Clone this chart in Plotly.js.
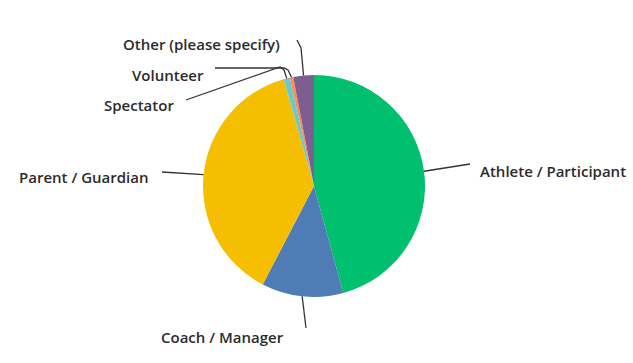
<!DOCTYPE html>
<html><head><meta charset="utf-8">
<script src="https://cdn.plot.ly/plotly-3.0.1.min.js"></script>
<style>html,body{margin:0;padding:0;background:#fff}#c{width:633px;height:363px}</style>
</head><body><div id="c"></div>
<script>
const categories = ["Athlete / Participant", "Coach / Manager", "Parent / Guardian", "Spectator", "Volunteer", "Other (please specify)"];
const values = [45.8, 11.9, 38.0, 0.9, 0.5, 3.0];
const colors = ["#00BF6F", "#507CB6", "#F6BE00", "#6BC8CD", "#FF8B4F", "#7D5E90"];

// label placement (pixels): elbow points and text anchor
const labelLayout = [
  {pts: [[470,164]], tx: 478, ty: 171, anchor: "left"},
  {pts: [[306,328]], tx: 222, ty: 337, anchor: "center"},
  {pts: [[162,172]], tx: 151, ty: 177, anchor: "right"},
  {pts: [[284,70],[280,67],[186,100]], tx: 176, ty: 105, anchor: "right"},
  {pts: [[288,70],[284,68],[215,68]], tx: 206, ty: 75, anchor: "right"},
  {pts: [[301,48],[297,40]], tx: 282, ty: 44, anchor: "right"}
];

const W = 633, H = 363;
const cx = 314, cy = 186, R = 111;
const px = x => x / W, py = y => 1 - y / H;

const total = values.reduce((a, b) => a + b, 0);
const shapes = [], annotations = [];
let cum = 0;
values.forEach((v, i) => {
  const mid = (cum + v / 2) / total * 2 * Math.PI;
  cum += v;
  const ex = cx + R * Math.sin(mid), ey = cy - R * Math.cos(mid);
  const L = labelLayout[i];
  let path = `M ${px(ex)} ${py(ey)}`;
  L.pts.forEach(p => { path += ` L ${px(p[0])} ${py(p[1])}`; });
  shapes.push({type: "path", xref: "paper", yref: "paper", path: path, line: {color: "#333333", width: 1.3}});
  annotations.push({xref: "paper", yref: "paper", x: px(L.tx), y: py(L.ty), xanchor: L.anchor, yanchor: "middle",
    text: categories[i], showarrow: false, font: {family: "Open Sans", size: 15, color: "#2b2b2b", weight: 600}});
});

const data = [{
  type: "pie", labels: categories, values: values, sort: false, direction: "clockwise", rotation: 0,
  marker: {colors: colors, line: {color: "#ffffff", width: 0}},
  textinfo: "none", hoverinfo: "label+percent",
  domain: {x: [203 / W, 425 / W], y: [1 - 297 / H, 1 - 75 / H]}
}];
const layout = {width: W, height: H, margin: {l: 0, r: 0, t: 0, b: 0}, showlegend: false,
  paper_bgcolor: "#ffffff", shapes: shapes, annotations: annotations};
Plotly.newPlot("c", data, layout, {displayModeBar: false, staticPlot: true});
</script></body></html>
